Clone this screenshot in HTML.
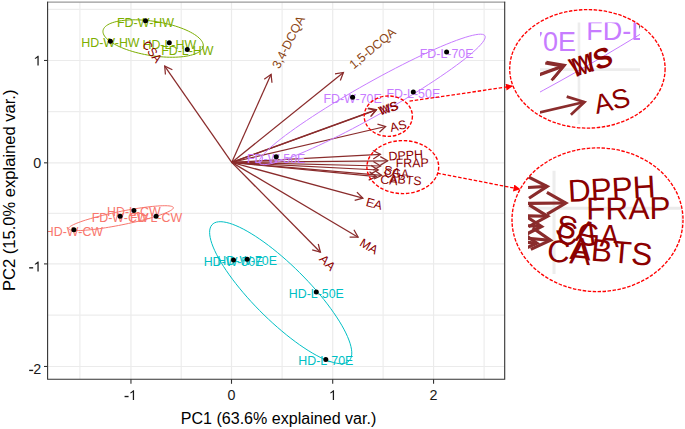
<!DOCTYPE html><html><head><meta charset="utf-8"><style>html,body{margin:0;padding:0;background:#fff;}svg{display:block;font-family:"Liberation Sans",sans-serif;}</style></head><body>
<svg width="685" height="429" viewBox="0 0 685 429">
<defs>
<clipPath id="panel"><rect x="47.6" y="2.1" width="457.09999999999997" height="377.09999999999997"/></clipPath>
<clipPath id="ce1"><ellipse cx="587.4" cy="68.85" rx="77.7" ry="59.25"/></clipPath>
<clipPath id="cr1"><rect x="540" y="22.6" width="100" height="101.4"/></clipPath>
<clipPath id="ce2"><ellipse cx="597.5" cy="219.75" rx="85.5" ry="71.85"/></clipPath>
<clipPath id="cr2"><rect x="528" y="170.7" width="154" height="103.30000000000001"/></clipPath>
<marker id="ah" viewBox="0 0 10 10" refX="9" refY="5" markerWidth="7.5" markerHeight="7" markerUnits="userSpaceOnUse" orient="auto"><path d="M0,0 L10,5 L0,10 Z" fill="#FF0000"/></marker>
</defs>
<rect width="685" height="429" fill="#fff"/>
<g id="pc" clip-path="url(#panel)"><rect x="47.6" y="2.1" width="457.09999999999997" height="377.09999999999997" fill="#fff"/><line x1="79.90" y1="2.1" x2="79.90" y2="379.2" stroke="#EDEDED" stroke-width="1.2"/><line x1="181.20" y1="2.1" x2="181.20" y2="379.2" stroke="#EDEDED" stroke-width="1.2"/><line x1="282.10" y1="2.1" x2="282.10" y2="379.2" stroke="#EDEDED" stroke-width="1.2"/><line x1="383.10" y1="2.1" x2="383.10" y2="379.2" stroke="#EDEDED" stroke-width="1.2"/><line x1="484.10" y1="2.1" x2="484.10" y2="379.2" stroke="#EDEDED" stroke-width="1.2"/><line x1="47.6" y1="9.40" x2="504.7" y2="9.40" stroke="#EDEDED" stroke-width="1.2"/><line x1="47.6" y1="111.65" x2="504.7" y2="111.65" stroke="#EDEDED" stroke-width="1.2"/><line x1="47.6" y1="213.40" x2="504.7" y2="213.40" stroke="#EDEDED" stroke-width="1.2"/><line x1="47.6" y1="315.20" x2="504.7" y2="315.20" stroke="#EDEDED" stroke-width="1.2"/><line x1="130.95" y1="2.1" x2="130.95" y2="379.2" stroke="#EBEBEB" stroke-width="1.2"/><line x1="231.50" y1="2.1" x2="231.50" y2="379.2" stroke="#EBEBEB" stroke-width="1.2"/><line x1="332.70" y1="2.1" x2="332.70" y2="379.2" stroke="#EBEBEB" stroke-width="1.2"/><line x1="433.56" y1="2.1" x2="433.56" y2="379.2" stroke="#EBEBEB" stroke-width="1.2"/><line x1="47.6" y1="60.48" x2="504.7" y2="60.48" stroke="#EBEBEB" stroke-width="1.2"/><line x1="47.6" y1="162.83" x2="504.7" y2="162.83" stroke="#EBEBEB" stroke-width="1.2"/><line x1="47.6" y1="263.90" x2="504.7" y2="263.90" stroke="#EBEBEB" stroke-width="1.2"/><line x1="47.6" y1="366.48" x2="504.7" y2="366.48" stroke="#EBEBEB" stroke-width="1.2"/><line x1="231.7" y1="162.4" x2="164.70" y2="66.10" stroke="#8A2C2C" stroke-width="1.25"/><polyline points="172.39,69.72 164.70,66.10 165.42,74.57" fill="none" stroke="#8A2C2C" stroke-width="1.25"/><line x1="231.7" y1="162.4" x2="271.10" y2="74.30" stroke="#8A2C2C" stroke-width="1.25"/><polyline points="271.97,82.75 271.10,74.30 264.22,79.28" fill="none" stroke="#8A2C2C" stroke-width="1.25"/><line x1="231.7" y1="162.4" x2="343.40" y2="72.50" stroke="#8A2C2C" stroke-width="1.25"/><polyline points="340.33,80.43 343.40,72.50 335.00,73.80" fill="none" stroke="#8A2C2C" stroke-width="1.25"/><line x1="231.7" y1="162.4" x2="376.50" y2="109.60" stroke="#8A2C2C" stroke-width="1.25"/><polyline points="371.04,116.11 376.50,109.60 368.13,108.13" fill="none" stroke="#8A2C2C" stroke-width="1.25"/><line x1="231.7" y1="162.4" x2="376.00" y2="110.10" stroke="#8A2C2C" stroke-width="1.25"/><polyline points="370.53,116.60 376.00,110.10 367.63,108.61" fill="none" stroke="#8A2C2C" stroke-width="1.25"/><line x1="231.7" y1="162.4" x2="385.60" y2="126.50" stroke="#8A2C2C" stroke-width="1.25"/><polyline points="379.40,132.31 385.60,126.50 377.47,124.03" fill="none" stroke="#8A2C2C" stroke-width="1.25"/><line x1="231.7" y1="162.4" x2="380.40" y2="154.30" stroke="#8A2C2C" stroke-width="1.25"/><polyline points="373.28,158.94 380.40,154.30 372.82,150.46" fill="none" stroke="#8A2C2C" stroke-width="1.25"/><line x1="231.7" y1="162.4" x2="387.70" y2="160.80" stroke="#8A2C2C" stroke-width="1.25"/><polyline points="380.38,165.13 387.70,160.80 380.30,156.63" fill="none" stroke="#8A2C2C" stroke-width="1.25"/><line x1="231.7" y1="162.4" x2="380.60" y2="166.00" stroke="#8A2C2C" stroke-width="1.25"/><polyline points="373.14,170.07 380.60,166.00 373.34,161.57" fill="none" stroke="#8A2C2C" stroke-width="1.25"/><line x1="231.7" y1="162.4" x2="378.20" y2="170.00" stroke="#8A2C2C" stroke-width="1.25"/><polyline points="370.63,173.86 378.20,170.00 371.07,165.37" fill="none" stroke="#8A2C2C" stroke-width="1.25"/><line x1="231.7" y1="162.4" x2="381.70" y2="175.40" stroke="#8A2C2C" stroke-width="1.25"/><polyline points="374.00,179.00 381.70,175.40 374.73,170.53" fill="none" stroke="#8A2C2C" stroke-width="1.25"/><line x1="231.7" y1="162.4" x2="376.40" y2="176.60" stroke="#8A2C2C" stroke-width="1.25"/><polyline points="368.66,180.11 376.40,176.60 369.49,171.65" fill="none" stroke="#8A2C2C" stroke-width="1.25"/><line x1="231.7" y1="162.4" x2="362.90" y2="198.20" stroke="#8A2C2C" stroke-width="1.25"/><polyline points="354.68,200.36 362.90,198.20 356.92,192.16" fill="none" stroke="#8A2C2C" stroke-width="1.25"/><line x1="231.7" y1="162.4" x2="358.10" y2="237.20" stroke="#8A2C2C" stroke-width="1.25"/><polyline points="349.60,237.11 358.10,237.20 353.93,229.79" fill="none" stroke="#8A2C2C" stroke-width="1.25"/><line x1="231.7" y1="162.4" x2="320.40" y2="252.20" stroke="#8A2C2C" stroke-width="1.25"/><polyline points="312.20,249.95 320.40,252.20 318.25,243.98" fill="none" stroke="#8A2C2C" stroke-width="1.25"/><text x="73.90" y="235.88" fill="#F8766D" font-size="12.4" text-anchor="middle">HD-W-CW</text><text x="120.10" y="222.28" fill="#F8766D" font-size="12.4" text-anchor="middle">FD-W-CW</text><text x="133.90" y="216.48" fill="#F8766D" font-size="12.4" text-anchor="middle">HD-L-CW</text><text x="156.10" y="222.28" fill="#F8766D" font-size="12.4" text-anchor="middle">FD-L-CW</text><text x="145.50" y="26.78" fill="#7CAE00" font-size="12.4" text-anchor="middle">FD-W-HW</text><text x="110.40" y="47.28" fill="#7CAE00" font-size="12.4" text-anchor="middle">HD-W-HW</text><text x="169.30" y="48.88" fill="#7CAE00" font-size="12.4" text-anchor="middle">HD-L-HW</text><text x="187.30" y="55.48" fill="#7CAE00" font-size="12.4" text-anchor="middle">FD-L-HW</text><text x="233.50" y="266.18" fill="#00BFC4" font-size="12.4" text-anchor="middle">HD-W-50E</text><text x="247.20" y="265.28" fill="#00BFC4" font-size="12.4" text-anchor="middle">HD-W-70E</text><text x="316.30" y="298.08" fill="#00BFC4" font-size="12.4" text-anchor="middle">HD-L-50E</text><text x="325.80" y="365.48" fill="#00BFC4" font-size="12.4" text-anchor="middle">HD-L-70E</text><text x="276.20" y="162.78" fill="#C77CFF" font-size="12.4" text-anchor="middle">FD-W-50E</text><text x="352.60" y="103.28" fill="#C77CFF" font-size="12.4" text-anchor="middle">FD-W-70E</text><text x="413.30" y="97.98" fill="#C77CFF" font-size="12.4" text-anchor="middle">FD-L-50E</text><text x="446.60" y="57.98" fill="#C77CFF" font-size="12.4" text-anchor="middle">FD-L-70E</text><path d="M68.58,228.52 L68.68,228.06 L69.00,227.56 L69.53,227.03 L70.26,226.46 L71.20,225.86 L72.33,225.22 L73.67,224.56 L75.19,223.87 L76.90,223.16 L78.79,222.43 L80.84,221.68 L83.06,220.92 L85.43,220.15 L87.95,219.36 L90.59,218.58 L93.36,217.79 L96.24,217.00 L99.22,216.22 L102.29,215.44 L105.43,214.68 L108.64,213.93 L111.90,213.20 L115.19,212.48 L118.51,211.79 L121.83,211.13 L125.15,210.49 L128.46,209.89 L131.74,209.31 L134.97,208.78 L138.15,208.28 L141.25,207.82 L144.28,207.40 L147.21,207.03 L150.04,206.70 L152.75,206.41 L155.33,206.18 L157.77,205.99 L160.07,205.85 L162.21,205.76 L164.18,205.72 L165.98,205.73 L167.59,205.79 L169.02,205.90 L170.26,206.06 L171.30,206.27 L172.13,206.53 L172.76,206.83 L173.18,207.18 L173.40,207.57 L173.40,208.01 L173.18,208.48 L172.76,209.00 L172.13,209.55 L171.30,210.14 L170.26,210.75 L169.02,211.40 L167.59,212.08 L165.98,212.78 L164.18,213.50 L162.21,214.24 L160.07,215.00 L157.77,215.77 L155.33,216.54 L152.75,217.33 L150.04,218.12 L147.21,218.91 L144.28,219.69 L141.25,220.47 L138.15,221.24 L134.97,222.00 L131.74,222.74 L128.46,223.46 L125.15,224.17 L121.83,224.84 L118.51,225.49 L115.19,226.12 L111.90,226.70 L108.64,227.26 L105.43,227.78 L102.29,228.26 L99.22,228.70 L96.24,229.09 L93.36,229.44 L90.59,229.75 L87.95,230.01 L85.43,230.22 L83.06,230.39 L80.84,230.50 L78.79,230.56 L76.90,230.58 L75.19,230.54 L73.67,230.46 L72.33,230.32 L71.20,230.14 L70.26,229.91 L69.53,229.63 L69.00,229.30 L68.68,228.93 L68.58,228.52Z" fill="none" stroke="#F8766D" stroke-width="1" vector-effect="non-scaling-stroke"/><path d="M102.96,31.52 L103.06,30.44 L103.36,29.38 L103.86,28.36 L104.57,27.39 L105.46,26.45 L106.55,25.57 L107.83,24.74 L109.29,23.96 L110.92,23.25 L112.73,22.59 L114.69,22.00 L116.82,21.48 L119.09,21.02 L121.49,20.63 L124.03,20.32 L126.68,20.08 L129.43,19.91 L132.28,19.82 L135.22,19.81 L138.23,19.87 L141.30,20.00 L144.41,20.21 L147.56,20.49 L150.74,20.85 L153.92,21.28 L157.10,21.77 L160.26,22.33 L163.40,22.96 L166.49,23.66 L169.53,24.41 L172.51,25.22 L175.40,26.08 L178.21,26.99 L180.91,27.95 L183.51,28.95 L185.98,29.99 L188.32,31.06 L190.51,32.17 L192.56,33.30 L194.45,34.45 L196.17,35.61 L197.72,36.79 L199.08,37.98 L200.27,39.17 L201.26,40.35 L202.06,41.53 L202.66,42.70 L203.06,43.84 L203.27,44.97 L203.27,46.07 L203.06,47.15 L202.66,48.18 L202.06,49.18 L201.26,50.14 L200.27,51.04 L199.08,51.90 L197.72,52.70 L196.17,53.45 L194.45,54.14 L192.56,54.76 L190.51,55.32 L188.32,55.81 L185.98,56.23 L183.51,56.58 L180.91,56.86 L178.21,57.06 L175.40,57.19 L172.51,57.25 L169.53,57.22 L166.49,57.13 L163.40,56.95 L160.26,56.71 L157.10,56.39 L153.92,56.00 L150.74,55.54 L147.56,55.01 L144.41,54.41 L141.30,53.75 L138.23,53.03 L135.22,52.25 L132.28,51.41 L129.43,50.52 L126.68,49.59 L124.03,48.61 L121.49,47.59 L119.09,46.53 L116.82,45.44 L114.69,44.32 L112.73,43.18 L110.92,42.02 L109.29,40.85 L107.83,39.67 L106.55,38.48 L105.46,37.29 L104.57,36.11 L103.86,34.94 L103.36,33.78 L103.06,32.64 L102.96,31.52Z" fill="none" stroke="#7CAE00" stroke-width="1" vector-effect="non-scaling-stroke"/><path d="M209.62,232.36 L209.76,230.10 L210.19,228.10 L210.90,226.36 L211.90,224.89 L213.17,223.69 L214.71,222.76 L216.52,222.12 L218.59,221.77 L220.90,221.69 L223.46,221.91 L226.25,222.41 L229.26,223.19 L232.47,224.25 L235.88,225.59 L239.47,227.19 L243.22,229.06 L247.13,231.19 L251.17,233.57 L255.33,236.18 L259.59,239.02 L263.94,242.07 L268.36,245.33 L272.82,248.78 L277.32,252.41 L281.83,256.20 L286.33,260.14 L290.82,264.20 L295.26,268.39 L299.64,272.67 L303.95,277.03 L308.16,281.45 L312.26,285.92 L316.24,290.41 L320.07,294.92 L323.75,299.41 L327.25,303.88 L330.56,308.31 L333.67,312.67 L336.57,316.95 L339.25,321.13 L341.69,325.20 L343.88,329.13 L345.82,332.92 L347.49,336.55 L348.90,340.00 L350.04,343.26 L350.89,346.32 L351.46,349.16 L351.75,351.77 L351.75,354.15 L351.46,356.28 L350.89,358.15 L350.04,359.76 L348.90,361.10 L347.49,362.16 L345.82,362.94 L343.88,363.44 L341.69,363.66 L339.25,363.59 L336.57,363.23 L333.67,362.59 L330.56,361.67 L327.25,360.47 L323.75,358.99 L320.07,357.25 L316.24,355.25 L312.26,353.00 L308.16,350.51 L303.95,347.78 L299.64,344.83 L295.26,341.67 L290.82,338.31 L286.33,334.77 L281.83,331.06 L277.32,327.20 L272.82,323.19 L268.36,319.07 L263.94,314.83 L259.59,310.51 L255.33,306.12 L251.17,301.67 L247.13,297.19 L243.22,292.68 L239.47,288.18 L235.88,283.70 L232.47,279.25 L229.26,274.85 L226.25,270.53 L223.46,266.30 L220.90,262.17 L218.59,258.17 L216.52,254.30 L214.71,250.59 L213.17,247.05 L211.90,243.69 L210.90,240.53 L210.19,237.58 L209.76,234.85 L209.62,232.36Z" fill="none" stroke="#00BFC4" stroke-width="1" vector-effect="non-scaling-stroke"/><path d="M259.12,161.91 L259.35,160.60 L260.03,159.04 L261.17,157.25 L262.75,155.22 L264.77,152.96 L267.22,150.49 L270.10,147.81 L273.39,144.94 L277.07,141.89 L281.14,138.66 L285.57,135.28 L290.36,131.75 L295.47,128.09 L300.89,124.32 L306.60,120.44 L312.57,116.49 L318.78,112.46 L325.21,108.38 L331.83,104.26 L338.61,100.13 L345.52,95.99 L352.54,91.87 L359.64,87.77 L366.80,83.73 L373.97,79.74 L381.13,75.84 L388.26,72.03 L395.33,68.33 L402.30,64.76 L409.15,61.32 L415.85,58.04 L422.38,54.93 L428.70,51.99 L434.80,49.25 L440.64,46.70 L446.21,44.38 L451.48,42.27 L456.43,40.39 L461.04,38.75 L465.29,37.35 L469.17,36.21 L472.66,35.32 L475.74,34.68 L478.41,34.31 L480.65,34.20 L482.45,34.35 L483.81,34.77 L484.71,35.44 L485.17,36.37 L485.17,37.56 L484.71,39.00 L483.81,40.67 L482.45,42.59 L480.65,44.73 L478.41,47.10 L475.74,49.67 L472.66,52.45 L469.17,55.41 L465.29,58.55 L461.04,61.86 L456.43,65.32 L451.48,68.91 L446.21,72.63 L440.64,76.46 L434.80,80.38 L428.70,84.37 L422.38,88.43 L415.85,92.53 L409.15,96.65 L402.30,100.79 L395.33,104.92 L388.26,109.04 L381.13,113.11 L373.97,117.13 L366.80,121.07 L359.64,124.93 L352.54,128.69 L345.52,132.32 L338.61,135.83 L331.83,139.19 L325.21,142.39 L318.78,145.41 L312.57,148.26 L306.60,150.90 L300.89,153.34 L295.47,155.56 L290.36,157.55 L285.57,159.31 L281.14,160.83 L277.07,162.10 L273.39,163.12 L270.10,163.88 L267.22,164.39 L264.77,164.63 L262.75,164.61 L261.17,164.32 L260.03,163.78 L259.35,162.97 L259.12,161.91Z" fill="none" stroke="#C77CFF" stroke-width="1" vector-effect="non-scaling-stroke"/><text transform="translate(164.70,66.10) rotate(53.50)" x="-30.90" y="5.74" fill="#8B0000" font-size="12.4" textLength="23.8" lengthAdjust="spacingAndGlyphs">CSA</text><text transform="translate(271.10,74.30) rotate(-63.00)" x="8.00" y="5.00" fill="#8B4513" font-size="12.4">3,4-DCQA</text><text transform="translate(343.40,72.50) rotate(-39.90)" x="9.90" y="4.27" fill="#8B4513" font-size="12.4" textLength="56" lengthAdjust="spacingAndGlyphs">1,5-DCQA</text><text transform="translate(376.50,109.60) rotate(-18.50)" x="2.00" y="6.57" fill="#8B0000" font-size="12.4">WS</text><text transform="translate(376.00,110.10) rotate(-18.50)" x="3.40" y="6.57" fill="#8B0000" font-size="12.4">MS</text><text transform="translate(385.60,126.50) rotate(-13.13)" x="4.14" y="6.57" fill="#8B0000" font-size="12.4">AS</text><text transform="translate(380.40,154.30) rotate(-3.12)" x="8.00" y="6.57" fill="#8B0000" font-size="12.4">DPPH</text><text transform="translate(387.70,160.80) rotate(-0.59)" x="8.00" y="6.57" fill="#8B0000" font-size="12.4">FRAP</text><text transform="translate(380.60,166.00) rotate(14.00)" x="4.14" y="6.57" fill="#8B0000" font-size="12.4">SA</text><text transform="translate(378.20,170.00) rotate(2.97)" x="6.12" y="6.57" fill="#8B0000" font-size="12.4" textLength="24.5" lengthAdjust="spacingAndGlyphs">CGA</text><text transform="translate(381.70,175.40) rotate(4.95)" x="8.00" y="6.57" fill="#8B0000" font-size="12.4">ABTS</text><text transform="translate(376.40,176.60) rotate(5.60)" x="4.31" y="6.57" fill="#8B0000" font-size="12.4">CA</text><text transform="translate(362.90,198.20) rotate(15.26)" x="4.14" y="6.57" fill="#8B0000" font-size="12.4">EA</text><text transform="translate(358.10,237.20) rotate(30.62)" x="4.65" y="6.57" fill="#8B0000" font-size="12.4">MA</text><text transform="translate(320.40,252.20) rotate(45.35)" x="4.14" y="6.57" fill="#8B0000" font-size="12.4">AA</text><circle cx="73.9" cy="229.8" r="2.5" fill="#000"/><circle cx="120.1" cy="216.2" r="2.5" fill="#000"/><circle cx="133.9" cy="210.4" r="2.5" fill="#000"/><circle cx="156.1" cy="216.2" r="2.5" fill="#000"/><circle cx="145.5" cy="20.7" r="2.5" fill="#000"/><circle cx="110.4" cy="41.2" r="2.5" fill="#000"/><circle cx="169.3" cy="42.8" r="2.5" fill="#000"/><circle cx="187.3" cy="49.4" r="2.5" fill="#000"/><circle cx="233.5" cy="260.1" r="2.5" fill="#000"/><circle cx="247.2" cy="259.2" r="2.5" fill="#000"/><circle cx="316.3" cy="292.0" r="2.5" fill="#000"/><circle cx="325.8" cy="359.4" r="2.5" fill="#000"/><circle cx="276.2" cy="156.7" r="2.5" fill="#000"/><circle cx="352.6" cy="97.2" r="2.5" fill="#000"/><circle cx="413.3" cy="91.9" r="2.5" fill="#000"/><circle cx="446.6" cy="51.9" r="2.5" fill="#000"/></g>
<line x1="47.050000000000004" y1="2.1" x2="505.25" y2="2.1" stroke="#9a9a9a" stroke-width="1.3"/>
<path d="M47.6,1.7000000000000002 L47.6,379.2 L504.7,379.2 L504.7,1.7000000000000002" fill="none" stroke="#333" stroke-width="1.1"/>
<line x1="130.95" y1="379.2" x2="130.95" y2="383.8" stroke="#333" stroke-width="1.1"/>
<rect x="124.56" y="395.85" width="4.00" height="1.36" fill="#1a1a1a"/><path d="M763 0L583 0L583 1147C540 1105 480 1062 400 1015C330 975 270 945 222 928L222 1100C310 1142 395 1195 470 1262C545 1328 598 1378 630 1409L763 1409Z" transform="translate(128.75,400.10) scale(0.00698,-0.00698)" fill="#1a1a1a"/>
<line x1="231.50" y1="379.2" x2="231.50" y2="383.8" stroke="#333" stroke-width="1.1"/>
<text x="227.52" y="400.10" font-size="14.3" fill="#1a1a1a">0</text>
<line x1="332.70" y1="379.2" x2="332.70" y2="383.8" stroke="#333" stroke-width="1.1"/>
<path d="M763 0L583 0L583 1147C540 1105 480 1062 400 1015C330 975 270 945 222 928L222 1100C310 1142 395 1195 470 1262C545 1328 598 1378 630 1409L763 1409Z" transform="translate(328.72,400.10) scale(0.00698,-0.00698)" fill="#1a1a1a"/>
<line x1="433.56" y1="379.2" x2="433.56" y2="383.8" stroke="#333" stroke-width="1.1"/>
<text x="429.58" y="400.10" font-size="14.3" fill="#1a1a1a">2</text>
<line x1="44.0" y1="366.48" x2="47.6" y2="366.48" stroke="#333" stroke-width="1.1"/>
<rect x="29.16" y="369.73" width="4.00" height="1.36" fill="#1a1a1a"/><text x="33.35" y="373.98" font-size="14.3" fill="#1a1a1a">2</text>
<line x1="44.0" y1="263.90" x2="47.6" y2="263.90" stroke="#333" stroke-width="1.1"/>
<rect x="29.16" y="267.15" width="4.00" height="1.36" fill="#1a1a1a"/><path d="M763 0L583 0L583 1147C540 1105 480 1062 400 1015C330 975 270 945 222 928L222 1100C310 1142 395 1195 470 1262C545 1328 598 1378 630 1409L763 1409Z" transform="translate(33.35,271.40) scale(0.00698,-0.00698)" fill="#1a1a1a"/>
<line x1="44.0" y1="162.83" x2="47.6" y2="162.83" stroke="#333" stroke-width="1.1"/>
<text x="33.35" y="167.93" font-size="14.3" fill="#1a1a1a">0</text>
<line x1="44.0" y1="60.48" x2="47.6" y2="60.48" stroke="#333" stroke-width="1.1"/>
<path d="M763 0L583 0L583 1147C540 1105 480 1062 400 1015C330 975 270 945 222 928L222 1100C310 1142 395 1195 470 1262C545 1328 598 1378 630 1409L763 1409Z" transform="translate(33.35,65.58) scale(0.00698,-0.00698)" fill="#1a1a1a"/>
<text x="278.5" y="423.8" font-size="16" text-anchor="middle" textLength="195.6" lengthAdjust="spacingAndGlyphs" fill="#000">PC1 (63.6% explained var.)</text>
<text transform="translate(14.9,190.3) rotate(-90)" x="0" y="0" font-size="16.4" text-anchor="middle" textLength="201.5" lengthAdjust="spacingAndGlyphs" fill="#000">PC2 (15.0% explained var.)</text>
<ellipse cx="388.3" cy="116.2" rx="24.1" ry="20.2" fill="none" stroke="#FF0000" stroke-width="1.4" stroke-dasharray="3.5 1.8"/>
<ellipse cx="402.8" cy="167.1" rx="35.9" ry="26.5" fill="none" stroke="#FF0000" stroke-width="1.4" stroke-dasharray="3.5 1.8"/>
<line x1="409.5" y1="101.2" x2="512.3" y2="86.2" stroke="#FF0000" stroke-width="1.3" stroke-dasharray="3.5 1.8" marker-end="url(#ah)"/>
<line x1="437.3" y1="173.1" x2="519.8" y2="189.2" stroke="#FF0000" stroke-width="1.3" stroke-dasharray="3.5 1.8" marker-end="url(#ah)"/>
<g clip-path="url(#ce1)"><g clip-path="url(#cr1)"><use href="#pc" transform="translate(-256.19,-173.73) scale(2.18)"/></g></g>
<ellipse cx="587.4" cy="68.85" rx="77.7" ry="59.25" fill="none" stroke="#FF0000" stroke-width="1.35" stroke-dasharray="3.5 1.5"/>
<g clip-path="url(#ce2)"><g clip-path="url(#cr2)"><use href="#pc" transform="translate(-422.88,-207.02) scale(2.55)"/></g></g>
<ellipse cx="597.5" cy="219.75" rx="85.5" ry="71.85" fill="none" stroke="#FF0000" stroke-width="1.35" stroke-dasharray="3.5 1.5"/>
</svg></body></html>
